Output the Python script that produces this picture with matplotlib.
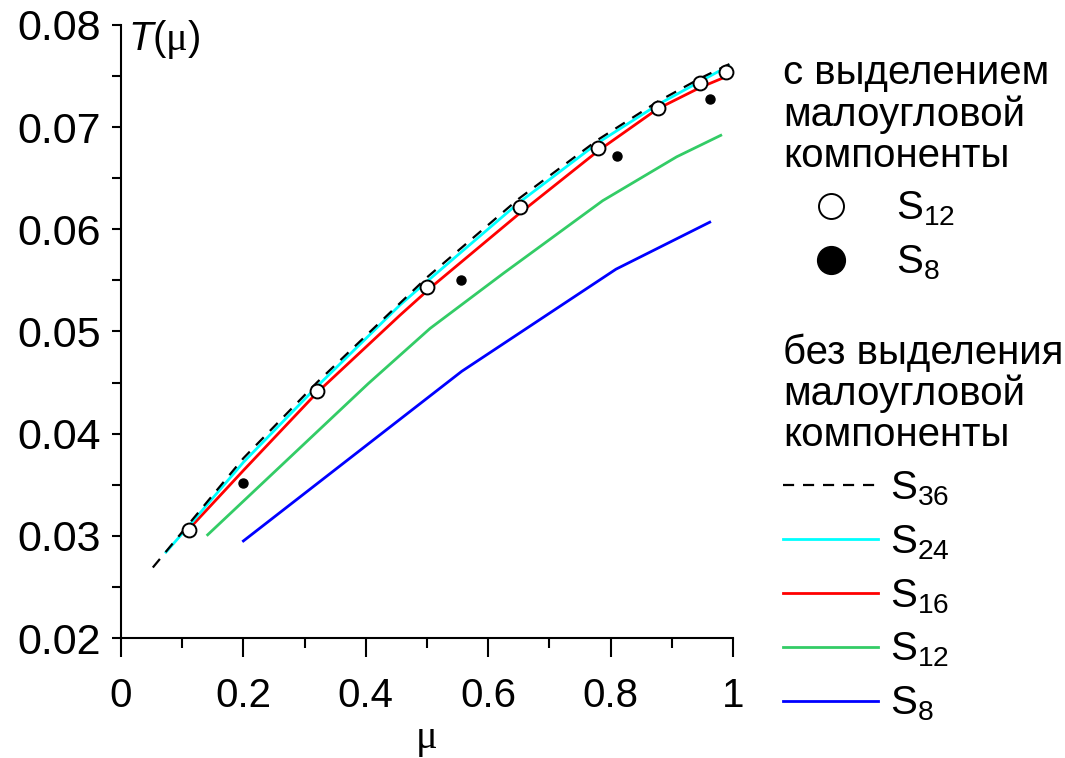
import matplotlib
matplotlib.use("Agg")
import matplotlib.pyplot as plt
from matplotlib.lines import Line2D
from matplotlib.ticker import MultipleLocator, FuncFormatter

plt.rcParams["font.family"] = ["Liberation Sans", "DejaVu Sans"]
plt.rcParams["mathtext.fontset"] = "custom"
plt.rcParams["mathtext.rm"] = "Liberation Sans"
plt.rcParams["mathtext.it"] = "Liberation Sans:italic"

# with small-angle component separated (markers)
mu_s12_sep = [0.1106, 0.3197, 0.5005, 0.652, 0.780, 0.877, 0.9466, 0.989]
t_s12_sep = [0.0306, 0.0442, 0.0544, 0.0622, 0.0680, 0.0719, 0.0743, 0.0754]
mu_s8_sep = [0.200, 0.5556, 0.8105, 0.963]
t_s8_sep = [0.0352, 0.0550, 0.0672, 0.0728]

# without separation (lines)
mu_s36 = [0.052, 0.11, 0.20, 0.32, 0.50, 0.65, 0.78, 0.877, 0.947, 0.995]
t_s36 = [0.0269, 0.0311, 0.0376, 0.0450, 0.0553, 0.0630, 0.0688, 0.0725, 0.0748, 0.0762]
mu_s24 = [0.0735, 0.11, 0.20, 0.32, 0.456, 0.50, 0.65, 0.78, 0.877, 0.947, 0.993]
t_s24 = [0.0284, 0.0309, 0.0372, 0.0446, 0.0526, 0.0549, 0.0626, 0.0685, 0.0722, 0.0745, 0.0760]
mu_s16 = [0.11, 0.20, 0.32, 0.456, 0.508, 0.65, 0.78, 0.877, 0.947, 0.987]
t_s16 = [0.0306, 0.0364, 0.0440, 0.0516, 0.0544, 0.0615, 0.0677, 0.0718, 0.0739, 0.0749]
mu_s12 = [0.1416, 0.404, 0.505, 0.625, 0.787, 0.908, 0.980]
t_s12 = [0.0301, 0.0449, 0.0503, 0.0557, 0.0628, 0.0671, 0.0692]
mu_s8 = [0.200, 0.5567, 0.8088, 0.962]
t_s8 = [0.0295, 0.0461, 0.0561, 0.0607]

FS = 29
LW = 2.0

fig = plt.figure(figsize=(10.65, 7.58), dpi=100)
ax = fig.add_axes([121 / 1065, 1 - 638 / 758, 612 / 1065, 613 / 758])

ax.plot(mu_s8, t_s8, color="#0000ff", lw=LW)
ax.plot(mu_s12, t_s12, color="#33cc66", lw=LW)
ax.plot(mu_s16, t_s16, color="#ff0000", lw=LW)
ax.plot(mu_s24, t_s24, color="#00ffff", lw=LW)
ax.plot(mu_s36, t_s36, color="black", lw=1.6, dashes=(5, 4))
ax.plot(mu_s12_sep, t_s12_sep, ls="none", marker="o", ms=10, mfc="white",
        mec="black", mew=1.4, clip_on=False)
ax.plot(mu_s8_sep, t_s8_sep, ls="none", marker="o", ms=6.5, color="black")

ax.set_xlim(0, 1)
ax.set_ylim(0.02, 0.08)
ax.xaxis.set_major_locator(MultipleLocator(0.2))
ax.xaxis.set_minor_locator(MultipleLocator(0.1))
ax.yaxis.set_major_locator(MultipleLocator(0.01))
ax.yaxis.set_minor_locator(MultipleLocator(0.005))
ax.xaxis.set_major_formatter(FuncFormatter(lambda v, p: f"{v:g}"))
ax.yaxis.set_major_formatter(FuncFormatter(lambda v, p: f"{v:.2f}"))
for s in ("top", "right"):
    ax.spines[s].set_visible(False)
for s in ("left", "bottom"):
    ax.spines[s].set_linewidth(1.5)
ax.tick_params(axis="x", which="major", length=14, width=1.5, pad=14, labelsize=FS)
ax.tick_params(axis="x", which="minor", length=7, width=1.5)
ax.tick_params(axis="y", which="both", length=6.5, width=1.5, pad=8, labelsize=31)

ax.set_xlabel("μ", fontsize=FS, family="Liberation Serif", labelpad=4)
ax.text(0.012, 1.012, r"$T($μ$)$", transform=ax.transAxes,
        fontsize=FS, family="Liberation Serif", ha="left", va="top")

h_sep = [
    Line2D([], [], ls="none", marker="o", ms=18, mfc="white", mec="black", mew=1.4),
    Line2D([], [], ls="none", marker="o", ms=20, color="black"),
]
leg1 = ax.legend(h_sep, [r"S$_{\mathrm{12}}$", r"S$_{\mathrm{8}}$"],
                 title="с выделением\nмалоугловой\nкомпоненты", alignment="left",
                 loc="upper left", bbox_to_anchor=(783 / 1065, 1 - 54 / 758),
                 bbox_transform=fig.transFigure, frameon=False, fontsize=FS,
                 title_fontsize=FS, borderpad=0, borderaxespad=0,
                 handlelength=2.4, handletextpad=0.4, labelspacing=0.38)
leg1.get_title().set_linespacing(1.1)
ax.add_artist(leg1)

h_nosep = [
    Line2D([], [], color="black", lw=1.6, dashes=(5, 4)),
    Line2D([], [], color="#00ffff", lw=LW),
    Line2D([], [], color="#ff0000", lw=LW),
    Line2D([], [], color="#33cc66", lw=LW),
    Line2D([], [], color="#0000ff", lw=LW),
]
labels = [r"S$_{\mathrm{36}}$", r"S$_{\mathrm{24}}$", r"S$_{\mathrm{16}}$",
          r"S$_{\mathrm{12}}$", r"S$_{\mathrm{8}}$"]
leg2 = ax.legend(h_nosep, labels,
                 title="без выделения\nмалоугловой\nкомпоненты", alignment="left",
                 loc="upper left", bbox_to_anchor=(783 / 1065, 1 - 334 / 758),
                 bbox_transform=fig.transFigure, frameon=False, fontsize=FS,
                 title_fontsize=FS, borderpad=0, borderaxespad=0,
                 handlelength=2.35, handletextpad=0.3, labelspacing=0.38)
leg2.get_title().set_linespacing(1.08)

fig.savefig("out.png", dpi=100)
